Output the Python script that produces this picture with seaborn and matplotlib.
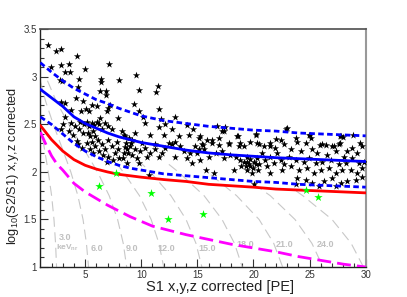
import numpy as np
import pandas as pd
import matplotlib
matplotlib.use("Agg")
import matplotlib.pyplot as plt
import seaborn as sns

# band curves
band_x = [1, 2, 3, 4, 5, 6, 7, 8, 9, 10, 12, 14, 16, 18, 20, 22, 24, 26, 28, 30]
median_y = [2.87, 2.78, 2.69, 2.58, 2.51, 2.46, 2.41, 2.37, 2.34, 2.31,
            2.27, 2.23, 2.20, 2.18, 2.165, 2.15, 2.14, 2.13, 2.12, 2.11]
upper_y = [3.15, 3.05, 2.96, 2.88, 2.82, 2.76, 2.72, 2.67, 2.63, 2.59,
           2.54, 2.51, 2.48, 2.46, 2.44, 2.43, 2.41, 2.40, 2.39, 2.38]
lower_y = [2.58, 2.50, 2.40, 2.30, 2.22, 2.16, 2.11, 2.07, 2.04, 2.02,
           1.98, 1.96, 1.94, 1.92, 1.90, 1.89, 1.87, 1.86, 1.85, 1.84]
red_y = [2.49, 2.34, 2.22, 2.13, 2.07, 2.03, 2.00, 1.975, 1.96, 1.945,
         1.92, 1.90, 1.87, 1.855, 1.84, 1.82, 1.81, 1.80, 1.79, 1.78]

mag_x = [1, 1.5, 2, 2.5, 3, 4, 5, 6, 7, 8, 9, 10, 11, 12, 14, 16, 18, 20, 22, 24, 26, 28, 30]
mag_y = [2.42, 2.29, 2.17, 2.08, 2.02, 1.88, 1.79, 1.72, 1.65, 1.59, 1.53, 1.48,
         1.43, 1.40, 1.34, 1.29, 1.24, 1.20, 1.16, 1.11, 1.07, 1.03, 1.00]

# energy contours (keVnr)
contours = {
    "3.0": ([1.0, 1.36, 1.71, 2.01, 2.22, 2.36, 2.45], [2.50, 2.25, 2.0, 1.75, 1.5, 1.25, 1.0]),
    "6.0": ([1.0, 1.46, 2.16, 2.95, 3.72, 4.35, 4.81, 5.11, 5.30], [2.96, 2.75, 2.5, 2.25, 2.0, 1.75, 1.5, 1.25, 1.0]),
    "9.0": ([1.64, 2.40, 3.54, 4.84, 6.10, 7.14, 7.89, 8.39, 8.70], [2.96, 2.75, 2.5, 2.25, 2.0, 1.75, 1.5, 1.25, 1.0]),
    "12.0": ([5.1, 6.67, 8.40, 9.84, 10.88, 11.57, 12.0], [2.47, 2.25, 2.0, 1.75, 1.5, 1.25, 1.0]),
    "15.0": ([8.7, 10.8, 12.65, 13.99, 14.87, 15.4], [2.24, 2.0, 1.75, 1.5, 1.25, 1.0]),
    "18.0": ([12.46, 13.3, 15.6, 17.2, 18.3, 19.0], [2.08, 2.0, 1.75, 1.5, 1.25, 1.0]),
    "21.0": ([16.2, 18.5, 20.5, 21.8, 22.6], [1.97, 1.75, 1.5, 1.25, 1.0]),
    "24.0": ([20.0, 21.5, 23.7, 25.2, 26.2], [1.875, 1.75, 1.5, 1.25, 1.0]),
    "27.0": ([23.8, 24.4, 27.0, 28.7, 29.8], [1.80, 1.75, 1.5, 1.25, 1.0]),
}
label_x = [3.2, 6.05, 9.15, 12.25, 15.85, 19.25, 22.8, 26.4]
label_y = [1.31, 1.19, 1.19, 1.19, 1.19, 1.24, 1.24, 1.24]
label_txt = ["3.0", "6.0", "9.0", "12.0", "15.0", "18.0", "21.0", "24.0"]

# green events
green_x = [6.23, 7.71, 10.9, 12.35, 15.46, 24.7, 25.75]
green_y = [1.85, 1.99, 1.78, 1.50, 1.56, 1.81, 1.74]

# black calibration events
stars = [
    (1.71, 3.34), (2.37, 3.27), (2.87, 3.29), (4.27, 3.22), (1.93, 3.10), (2.82, 3.13),
    (3.56, 3.14), (7.09, 3.14), (3.17, 3.05), (3.67, 3.05), (5.01, 3.08), (2.75, 2.97),
    (2.96, 2.96), (4.42, 2.98), (6.40, 2.98), (6.40, 2.95), (7.98, 2.97), (9.52, 3.02),
    (4.33, 2.89), (6.34, 2.85), (6.82, 2.85), (6.85, 2.81), (9.79, 2.86), (4.15, 2.78),
    (4.78, 2.75), (2.82, 2.74), (3.20, 2.73), (5.63, 2.70), (6.02, 2.69), (7.21, 2.70),
    (9.37, 2.71), (3.71, 2.65), (4.65, 2.64), (5.04, 2.66), (5.37, 2.64), (7.06, 2.67),
    (6.91, 2.64), (9.79, 2.64), (7.89, 2.57), (6.32, 2.57), (3.20, 2.58), (10.17, 2.58),
    (11.45, 2.90), (11.30, 2.84), (11.57, 2.66), (13.0, 2.58), (11.8, 2.56),
    (15.2, 2.38), (17.15, 2.43), (17.45, 2.47), (18.6, 2.38), (20.2, 2.40), (22.0, 2.35),
    (22.9, 2.45), (23.8, 2.36), (25.0, 2.39), (27.7, 2.38), (28.0, 2.37), (28.9, 2.39),
    (29.5, 2.30), (16.3, 2.34), (15.5, 2.28), (16.9, 2.28), (17.8, 2.31), (18.7, 2.27),
    (20.3, 2.30), (21.5, 2.27), (25.9, 2.28), (26.5, 2.28), (27.2, 2.27), (27.7, 2.30),
    (3.70, 2.52), (4.09, 2.48), (4.53, 2.53), (4.89, 2.50), (5.13, 2.53), (5.36, 2.48),
    (5.57, 2.52), (5.78, 2.49), (6.02, 2.53), (6.25, 2.50), (6.46, 2.45), (6.76, 2.52),
    (7.06, 2.48), (7.35, 2.45), (5.72, 2.43), (5.28, 2.41), (4.83, 2.41), (4.47, 2.45),
    (3.94, 2.39), (3.58, 2.43), (3.05, 2.50), (2.81, 2.45), (4.24, 2.33), (5.42, 2.38),
    (5.87, 2.38), (6.17, 2.34), (5.57, 2.32), (5.13, 2.31), (5.87, 2.27), (6.46, 2.29),
    (6.76, 2.24), (7.06, 2.34), (7.35, 2.27), (7.65, 2.20), (7.95, 2.24), (7.80, 2.32),
    (6.25, 2.22), (6.61, 2.18), (7.06, 2.16), (7.50, 2.13), (8.03, 2.15), (5.42, 2.24),
    (5.72, 2.20), (6.91, 2.11), (4.39, 2.29), (4.68, 2.25),
    (11.54, 2.47), (12.73, 2.45), (14.06, 2.49), (14.65, 2.45), (12.13, 2.50), (10.35, 2.52),
    (9.46, 2.41), (10.80, 2.39), (11.99, 2.39), (13.32, 2.38), (14.21, 2.39), (15.10, 2.36),
    (13.02, 2.32), (12.43, 2.31), (11.24, 2.29), (10.06, 2.31), (9.17, 2.34), (8.57, 2.38),
    (8.28, 2.43), (8.72, 2.24), (8.42, 2.20), (9.02, 2.27), (9.46, 2.24), (9.91, 2.22),
    (10.35, 2.25), (10.80, 2.20), (11.24, 2.24), (11.84, 2.20), (12.13, 2.25), (12.73, 2.29),
    (13.47, 2.27), (13.77, 2.22), (14.36, 2.20), (14.80, 2.27), (15.40, 2.29), (9.61, 2.15),
    (10.50, 2.16), (11.54, 2.16), (13.02, 2.16), (14.06, 2.15), (8.72, 2.09), (9.76, 2.09),
    (14.51, 2.09), (15.25, 2.13), (10.65, 1.97), (8.42, 2.39), (8.87, 2.36), (8.63, 2.31),
    (9.11, 2.30), (8.51, 2.26), (8.81, 2.20), (9.17, 2.18), (8.33, 2.15), (14.95, 2.20),
    (15.16, 2.24),
    (16.76, 2.48), (18.55, 2.38), (20.18, 2.39), (17.36, 2.43), (15.87, 2.34), (16.32, 2.31),
    (16.91, 2.36), (17.80, 2.29), (18.84, 2.31), (19.14, 2.27), (19.73, 2.32), (20.47, 2.29),
    (20.92, 2.27), (21.51, 2.31), (21.96, 2.25), (22.41, 2.34), (22.70, 2.29), (15.58, 2.24),
    (16.02, 2.16), (16.62, 2.20), (17.21, 2.22), (17.36, 2.15), (17.95, 2.18), (18.40, 2.16),
    (18.84, 2.13), (19.14, 2.11), (19.44, 2.16), (19.58, 2.08), (19.73, 2.06), (20.03, 2.11),
    (20.33, 2.15), (20.47, 2.08), (20.77, 2.20), (21.07, 2.13), (21.22, 2.06), (21.51, 2.16),
    (21.81, 2.09), (22.11, 2.20), (22.41, 2.13), (22.70, 2.08), (19.44, 2.02), (19.88, 1.99),
    (18.25, 2.02), (16.47, 1.99), (15.73, 2.02), (21.51, 1.99), (22.55, 2.02), (20.03, 1.87),
    (19.29, 2.06), (19.67, 2.14), (19.97, 2.04), (20.18, 2.08), (19.38, 2.10), (18.90, 2.06),
    (20.38, 2.02),
    (23.03, 2.46), (24.96, 2.39), (25.11, 2.36), (27.78, 2.38), (23.92, 2.32), (24.66, 2.31),
    (26.14, 2.29), (27.03, 2.27), (27.63, 2.29), (28.37, 2.22), (28.82, 2.25), (29.26, 2.20),
    (29.71, 2.27), (23.32, 2.24), (24.21, 2.22), (25.25, 2.24), (25.70, 2.20), (26.59, 2.18),
    (27.33, 2.22), (28.07, 2.16), (23.17, 2.16), (23.77, 2.13), (24.51, 2.11), (24.96, 2.15),
    (25.55, 2.09), (26.14, 2.11), (26.89, 2.13), (27.63, 2.08), (28.22, 2.09), (28.82, 2.15),
    (29.41, 2.09), (29.85, 2.11), (23.32, 2.06), (24.07, 2.02), (24.81, 2.04), (25.40, 1.99),
    (25.99, 2.02), (26.74, 2.04), (27.33, 1.99), (27.92, 2.02), (28.67, 2.02), (29.26, 1.99),
    (29.71, 2.04), (23.92, 1.94), (24.66, 1.92), (25.25, 1.88), (26.29, 1.90), (27.03, 1.94),
    (27.78, 1.88), (28.37, 1.90), (29.11, 1.92), (29.71, 1.95), (25.85, 1.85), (27.33, 1.85),
    (23.77, 1.87),
]
star_x = [p[0] for p in stars]
star_y = [p[1] for p in stars]

sns.set_theme(style="ticks")
plt.rcParams['font.family'] = ['Liberation Sans', 'DejaVu Sans']
plt.rcParams['mathtext.default'] = 'regular'

fig = plt.figure(figsize=(4.07, 2.97), dpi=100)
ax = fig.add_axes([0.099, 0.101, 0.7995, 0.80])

grey = "#c8c8c8"
for name, (cx, cy) in contours.items():
    sns.lineplot(x=cx, y=cy, ax=ax, sort=False, estimator=None, color=grey,
                 lw=0.8, zorder=1).lines[-1].set_dashes([9, 5])

sns.scatterplot(x=star_x, y=star_y, ax=ax, marker="*", color="black", s=30,
                linewidth=0, zorder=3)

l = sns.lineplot(x=mag_x, y=mag_y, ax=ax, color="#ff00ff", lw=2.0, zorder=4).lines[-1]
l.set_dashes([5, 2.2])
sns.lineplot(x=band_x, y=red_y, ax=ax, color="#ff0000", lw=2.0, zorder=4)
sns.lineplot(x=band_x, y=median_y, ax=ax, color="#0000ff", lw=2.0, zorder=5)
for yy in (upper_y, lower_y):
    l = sns.lineplot(x=band_x, y=yy, ax=ax, color="#0000ff", lw=2.0, zorder=5).lines[-1]
    l.set_dashes([2.0, 1.2])

sns.scatterplot(x=green_x, y=green_y, ax=ax, marker="*", color="#00ff00", s=40,
                linewidth=0, zorder=6)

for tx, ty, t in zip(label_x, label_y, label_txt):
    ax.text(tx, ty, t, color="#c0c0c0", fontsize=6.5, fontweight="bold",
            ha="center", va="center", zorder=2)
ax.text(3.4, 1.205, "keV$_{nr}$", color="#c0c0c0", fontsize=6, fontweight="bold",
        ha="center", va="center", zorder=2)

ax.set_xlim(1, 30)
ax.set_ylim(1, 3.5)
ax.set_xticks([5, 10, 15, 20, 25, 30])
ax.set_yticks([1, 1.5, 2, 2.5, 3, 3.5])
ax.set_yticklabels(["1", "1.5", "2", "2.5", "3", "3.5"])
ax.set_xticks(np.arange(2, 30, 1), minor=True)
ax.set_yticks(np.arange(1.1, 3.5, 0.1), minor=True)
ax.tick_params(which="both", direction="in", colors="#333333", labelsize=7,
               top=False, right=False)
ax.tick_params(which="major", length=6, width=0.8)
ax.tick_params(which="minor", length=3, width=0.8)
ax.tick_params(axis="x", pad=2.5)
ax.tick_params(axis="y", pad=2.5)
for s in ("left", "bottom"):
    ax.spines[s].set_color("#222222")
    ax.spines[s].set_linewidth(1.0)
ax.spines["top"].set_color("#555555")
ax.spines["right"].set_color("#999999")
ax.spines["right"].set_linewidth(1.5)

ax.set_xlabel("S1 x,y,z corrected [PE]", fontsize=10.5, color="#222222")
ax.set_ylabel("log$_{10}$(S2/S1) x,y,z corrected", fontsize=9.2, color="#222222")
ax.xaxis.set_label_coords(0.552, -0.084)
ax.xaxis.label.set_verticalalignment("center")
ax.yaxis.set_label_coords(-0.085, 0.425)
ax.yaxis.label.set_verticalalignment("center")

fig.savefig("out.png", dpi=100)
